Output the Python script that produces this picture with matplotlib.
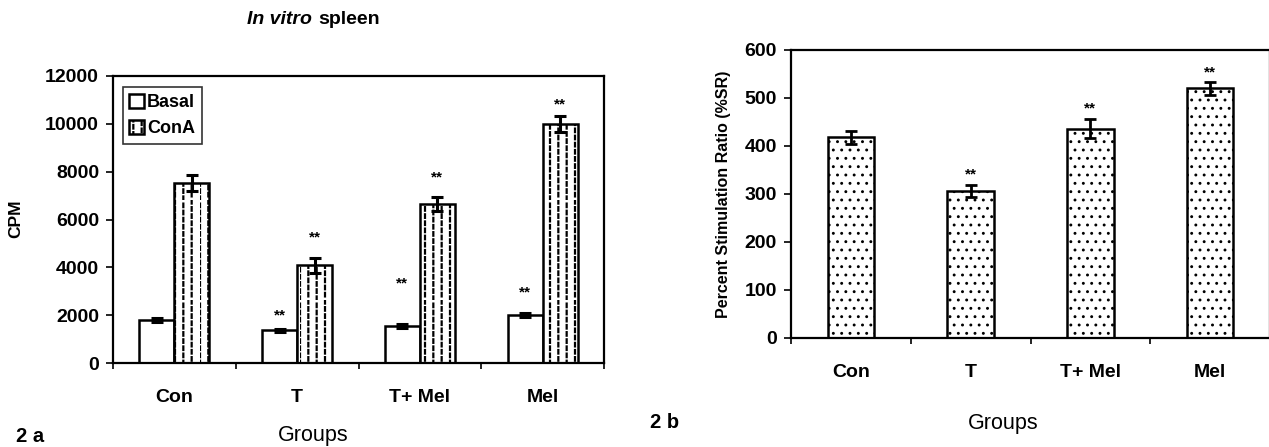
import numpy as np
import matplotlib
matplotlib.use("Agg")
import matplotlib.pyplot as plt
import matplotlib.hatch as mhatch
from matplotlib.path import Path

# ---------------- data ----------------
groups = ["Con", "T", "T+ Mel", "Mel"]

basal = [1800, 1370, 1550, 2020]
basal_err = [80, 60, 70, 80]
cona = [7520, 4080, 6650, 9980]
cona_err = [330, 320, 300, 330]
basal_sig = ["", "**", "**", "**"]
basal_sig_y = [0, 2000, 3330, 2960]
cona_sig = ["", "**", "**", "**"]
cona_sig_y = [0, 5250, 7750, 10830]

sr = [418, 306, 436, 520]
sr_err = [14, 13, 20, 14]
sr_sig = ["", "**", "**", "**"]
sr_sig_y = [0, 340, 479, 554]

cpm_ticks = [0, 2000, 4000, 6000, 8000, 10000, 12000]
sr_ticks = [0, 100, 200, 300, 400, 500, 600]


# ---------------- custom dashed vertical hatch ----------------
class DashedVertical(mhatch.HatchPatternBase):
    def __init__(self, hatch, density):
        self.num_lines = int(hatch.count("|") * density)
        self.n = 14
        self.num_vertices = self.num_lines * self.n * 2

    def set_vertices_and_codes(self, vertices, codes):
        idx = 0
        n = self.n
        for i in range(self.num_lines):
            x = i / self.num_lines
            off = 0.5 / n if i % 2 else 0.0
            for j in range(n):
                y0 = j / n + off
                vertices[idx] = (x, y0)
                codes[idx] = Path.MOVETO
                vertices[idx + 1] = (x, y0 + 0.5 / n)
                codes[idx + 1] = Path.LINETO
                idx += 2


mhatch._hatch_types = [DashedVertical if t is mhatch.VerticalHatch else t
                       for t in mhatch._hatch_types]

plt.rcParams["font.family"] = ["Liberation Sans", "DejaVu Sans"]
plt.rcParams["font.weight"] = "bold"
plt.rcParams["hatch.color"] = "black"

W, H = 1269, 447
fig = plt.figure(figsize=(W / 100, H / 100), dpi=100)


def fx(px):
    return px / W


def fy(py):
    return 1 - py / H


def style_axes(ax):
    for s in ax.spines.values():
        s.set_linewidth(1.6)
        s.set_color("black")
    ax.tick_params(axis="y", direction="out", length=5, width=1.2,
                   labelsize=14, pad=5)
    ax.tick_params(axis="x", which="major", direction="out", length=4,
                   width=1.2, labelbottom=False)
    ax.tick_params(axis="x", which="minor", length=0, labelsize=14, pad=19)
    for lab in ax.get_yticklabels() + ax.get_xticklabels(minor=True):
        lab.set_fontweight("bold")


# ---------------- left panel ----------------
axL = fig.add_axes([fx(113), fy(363), fx(604) - fx(113), fy(76) - fy(363)])
x = np.arange(len(groups))
bw = 0.285
plt.rcParams["hatch.linewidth"] = 1.6
axL.bar(x - bw / 2, basal, bw, color="white", edgecolor="black",
        linewidth=1.8, label="Basal", zorder=2)
axL.bar(x + bw / 2, cona, bw, color="white", edgecolor="black",
        linewidth=1.8, hatch="||", label="ConA", zorder=2)
axL.errorbar(x - bw / 2, basal, yerr=basal_err, fmt="none", ecolor="black",
             elinewidth=2.2, capsize=4, capthick=2.2, zorder=3)
axL.errorbar(x + bw / 2, cona, yerr=cona_err, fmt="none", ecolor="black",
             elinewidth=2.2, capsize=4, capthick=2.2, zorder=3)
for xi, s, yv in zip(x - bw / 2, basal_sig, basal_sig_y):
    if s:
        axL.text(xi, yv, s, ha="center", va="center", fontsize=11,
                 fontweight="bold")
for xi, s, yv in zip(x + bw / 2, cona_sig, cona_sig_y):
    if s:
        axL.text(xi, yv, s, ha="center", va="center", fontsize=11,
                 fontweight="bold")
axL.set_xlim(-0.5, len(groups) - 0.5)
axL.set_ylim(0, 12000)
axL.set_yticks(cpm_ticks)
axL.set_xticks(np.arange(-0.5, len(groups)), minor=False)
axL.set_xticks(x, minor=True)
axL.set_xticklabels(groups, minor=True)
style_axes(axL)
leg = axL.legend(loc="upper left", bbox_to_anchor=(0.02, 0.96),
                 fontsize=13, frameon=True, fancybox=False, handlelength=0.8,
                 handleheight=0.8, handletextpad=0.2, borderpad=0.35,
                 labelspacing=0.5, borderaxespad=0)
leg.get_frame().set_edgecolor("black")
leg.get_frame().set_linewidth(1.2)
for t in leg.get_texts():
    t.set_fontweight("bold")

fig.text(fx(312), fy(20), "In vitro", ha="right", va="center",
         fontsize=14, fontweight="bold", fontstyle="italic")
fig.text(fx(318), fy(20), "spleen", ha="left", va="center",
         fontsize=14, fontweight="bold")
fig.text(fx(16), fy(219), "CPM", rotation=90, ha="center", va="center",
         fontsize=12.5, fontweight="bold")
fig.text(fx(313), fy(436), "Groups", ha="center", va="center",
         fontsize=15.5, fontweight="normal")
fig.text(fx(30), fy(436), "2 a", ha="center", va="center",
         fontsize=14.5, fontweight="bold")

# ---------------- right panel ----------------
axR = fig.add_axes([fx(791), fy(338), fx(1270) - fx(791), fy(50) - fy(338)])
bw2 = 0.39
plt.rcParams["hatch.linewidth"] = 0.9
axR.bar(x, sr, bw2, color="white", edgecolor="black", linewidth=1.8,
        hatch="..", zorder=2)
axR.errorbar(x, sr, yerr=sr_err, fmt="none", ecolor="black",
             elinewidth=2.0, capsize=4, capthick=2.0, zorder=3)
for xi, s, yv in zip(x, sr_sig, sr_sig_y):
    if s:
        axR.text(xi, yv, s, ha="center", va="center", fontsize=11,
                 fontweight="bold")
axR.set_xlim(-0.5, len(groups) - 0.5)
axR.set_ylim(0, 600)
axR.set_yticks(sr_ticks)
axR.set_xticks(np.arange(-0.5, len(groups)), minor=False)
axR.set_xticks(x, minor=True)
axR.set_xticklabels(groups, minor=True)
style_axes(axR)
fig.text(fx(723), fy(194), "Percent Stimulation Ratio (%SR)", rotation=90,
         ha="center", va="center", fontsize=11.5, fontweight="bold")
fig.text(fx(1003), fy(423), "Groups", ha="center", va="center",
         fontsize=15.5, fontweight="normal")
fig.text(fx(665), fy(423), "2 b", ha="center", va="center",
         fontsize=14.5, fontweight="bold")

fig.savefig("out.png", dpi=100)
